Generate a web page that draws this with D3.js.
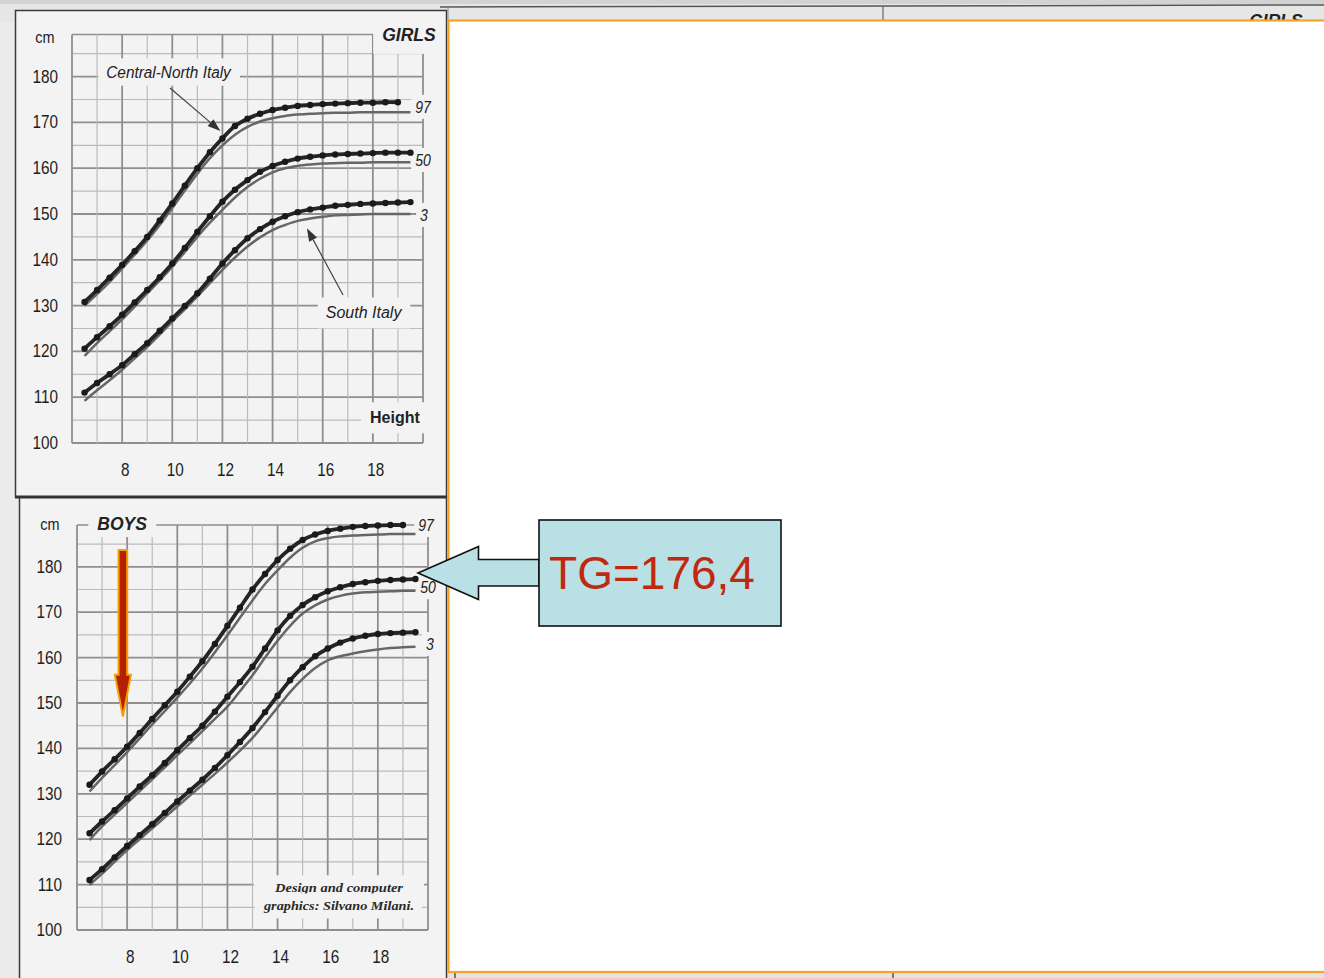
<!DOCTYPE html>
<html><head><meta charset="utf-8">
<script src="https://cdn.jsdelivr.net/npm/d3@7/dist/d3.min.js"></script>
<style>html,body{margin:0;padding:0;background:#fff;overflow:hidden}svg{display:block}</style>
</head><body>
<svg id="c" width="1324" height="978"></svg>
<script>
// ---------------- DATA ----------------
const ages = [6.5,7,7.5,8,8.5,9,9.5,10,10.5,11,11.5,12,12.5,13,13.5,14,14.5,15,15.5,16,16.5,17,17.5,18,18.5,19,19.5];

// Girls – Central-North Italy (dotted) and South Italy (plain)
const girlsNorth97 = [130.8,133.4,136.1,138.9,141.9,145.0,148.6,152.3,156.2,160.0,163.5,166.5,169.2,170.8,171.9,172.7,173.2,173.6,173.8,174.0,174.1,174.2,174.3,174.3,174.4,174.4,null];
const girlsSouth97 = [130.0,132.5,135.2,138.1,141.1,144.2,147.6,151.3,155.1,158.8,162.2,165.0,167.3,169.0,170.2,170.9,171.4,171.7,171.9,172.0,172.1,172.1,172.2,172.2,172.2,172.2,172.2];
const girlsNorth50 = [120.6,123.1,125.5,128.0,130.7,133.4,136.2,139.2,142.6,146.1,149.5,152.7,155.3,157.4,159.2,160.5,161.4,162.1,162.5,162.8,163.0,163.1,163.2,163.3,163.4,163.4,163.4];
const girlsSouth50 = [119.0,121.8,124.4,127.0,129.8,132.7,135.5,138.5,141.7,145.0,148.1,150.9,153.6,155.9,157.7,159.1,160.0,160.5,160.8,161.0,161.1,161.2,161.2,161.3,161.3,161.3,161.3];
const girlsNorth3 = [111.0,113.1,115.0,117.0,119.4,121.8,124.5,127.2,129.9,132.7,135.9,139.2,142.1,144.7,146.7,148.3,149.5,150.4,151.0,151.4,151.8,152.0,152.2,152.3,152.4,152.5,152.6];
const girlsSouth3 = [109.2,111.5,113.7,116.0,118.5,121.0,123.7,126.5,129.2,132.0,134.9,137.8,140.5,142.9,144.9,146.5,147.6,148.5,149.0,149.4,149.7,149.8,149.9,150.0,150.0,150.0,150.0];

// Boys
const boysNorth97 = [132.0,134.9,137.6,140.4,143.4,146.5,149.5,152.5,155.8,159.2,163.0,167.0,171.0,175.0,178.4,181.5,184.0,185.9,187.1,187.9,188.4,188.8,189.0,189.1,189.2,189.2,null];
const boysSouth97 = [130.5,133.5,136.3,139.2,142.2,145.3,148.2,151.2,154.3,157.6,161.2,164.9,168.8,172.6,176.2,179.2,182.0,184.2,185.6,186.3,186.7,186.9,187.0,187.1,187.2,187.2,187.2];
const boysNorth50 = [121.3,123.9,126.4,129.0,131.6,134.1,136.8,139.6,142.3,145.0,148.1,151.4,154.6,158.0,162.0,166.0,169.2,171.6,173.3,174.6,175.5,176.2,176.6,176.9,177.1,177.2,177.3];
const boysSouth50 = [119.8,122.8,125.4,128.0,130.6,133.2,135.8,138.5,141.1,143.8,146.5,149.2,152.6,156.1,160.0,163.7,167.0,169.7,171.5,172.8,173.6,174.1,174.4,174.5,174.6,174.7,174.7];
const boysNorth3 = [111.0,113.4,116.0,118.5,120.9,123.3,125.8,128.3,130.7,133.1,135.7,138.5,141.4,144.5,148.0,151.6,155.0,157.9,160.3,162.0,163.3,164.2,164.8,165.2,165.4,165.5,165.6];
const boysSouth3 = [109.9,112.4,115.0,117.6,120.0,122.4,124.8,127.2,129.6,132.0,134.4,136.9,139.5,142.3,145.6,149.0,152.4,155.3,157.7,159.4,160.3,160.9,161.4,161.8,162.1,162.3,162.4];

const percentiles = ["97","50","3"];
const xTickLabels = [8,10,12,14,16,18];
const yTickLabels = [100,110,120,130,140,150,160,170,180];
const gridYears = [6,7,8,9,10,11,12,13,14,15,16,17,18,19,20];
const gridCm = [100,105,110,115,120,125,130,135,140,145,150,155,160,165,170,175,180,185];
const callout = "TG=176,4";

// ---------------- DRAW ----------------
const svg = d3.select('#c');
const SANS = "'Liberation Sans', Arial, Helvetica, sans-serif";
const SERIF = "'Liberation Serif', 'Times New Roman', serif";
const PANEL = '#f3f3f3';

// page / scan backgrounds
svg.append('rect').attr('width',1324).attr('height',978).attr('fill','#fff');
svg.append('rect').attr('x',0).attr('y',0).attr('width',452).attr('height',978).attr('fill','#ebebeb');
svg.append('rect').attr('x',0).attr('y',0).attr('width',1324).attr('height',22).attr('fill','#e6e6e6');
svg.append('rect').attr('x',0).attr('y',0).attr('width',1324).attr('height',4).attr('fill','#d2d2d2');
svg.append('line').attr('x1',440).attr('y1',7).attr('x2',1324).attr('y2',5).attr('stroke','#555').attr('stroke-width',1.5);
svg.append('rect').attr('x',448).attr('y',970).attr('width',876).attr('height',8).attr('fill','#e3e3e3');

// panels
svg.append('rect').attr('x',15.5).attr('y',10.5).attr('width',431).attr('height',486.5)
  .attr('fill',PANEL).attr('stroke','#3a3a3a').attr('stroke-width',1.5);
svg.append('rect').attr('x',19.5).attr('y',497).attr('width',427).attr('height',500)
  .attr('fill',PANEL).attr('stroke','#3a3a3a').attr('stroke-width',1.5);
svg.append('line').attr('x1',15).attr('x2',447).attr('y1',497).attr('y2',497).attr('stroke','#333').attr('stroke-width',3);

function label(g, x, y, str, o) {
  o = o || {};
  const t = g.append('text')
    .attr('transform', `translate(${x},${y}) scale(${o.sx||1},1)`)
    .attr('text-anchor', o.anchor || 'middle')
    .attr('dominant-baseline', 'central')
    .attr('font-family', o.family || SANS)
    .attr('font-size', o.size || 16)
    .attr('font-style', o.italic ? 'italic' : 'normal')
    .attr('font-weight', o.bold ? 'bold' : 'normal')
    .attr('fill', o.fill || '#222')
    .text(str);
  if (o.textLength) t.attr('textLength', o.textLength).attr('lengthAdjust','spacingAndGlyphs');
  return t;
}
function boxBehind(g, textSel, px, py) {
  const n = textSel.node();
  const b = n.getBBox();
  const m = n.getCTM();
  const gm = g.node().getCTM();
  const pt = svg.node().createSVGPoint();
  const rel = gm.inverse().multiply(m);
  const corners = [[b.x,b.y],[b.x+b.width,b.y],[b.x,b.y+b.height],[b.x+b.width,b.y+b.height]].map(([a,c])=>{pt.x=a;pt.y=c;const q=pt.matrixTransform(rel);return [q.x,q.y];});
  const xs = corners.map(d=>d[0]), ys = corners.map(d=>d[1]);
  g.insert('rect', () => n)
    .attr('x', d3.min(xs)-px).attr('y', d3.min(ys)-py)
    .attr('width', d3.max(xs)-d3.min(xs)+2*px).attr('height', d3.max(ys)-d3.min(ys)+2*py)
    .attr('fill', PANEL);
}

function drawChart(cfg) {
  const x = d3.scaleLinear().domain([6,20]).range([cfg.x0, cfg.x1]);
  const y = d3.scaleLinear().domain([100,190]).range([cfg.y0, cfg.y0 - 90*cfg.k]);
  const g = svg.append('g');
  const gridTop = 189.2;

  // grid
  const grid = g.append('g');
  grid.selectAll('line.h').data(gridCm).join('line')
    .attr('x1', x(6)).attr('x2', x(20)).attr('y1', d=>y(d)).attr('y2', d=>y(d))
    .attr('stroke', d => d%10===0 ? '#8f8f8f' : '#bbbbbb')
    .attr('stroke-width', d => d%10===0 ? 1.8 : 1.2);
  grid.append('line').attr('x1',x(6)).attr('x2',x(20)).attr('y1',y(gridTop)).attr('y2',y(gridTop))
    .attr('stroke','#8f8f8f').attr('stroke-width',1.6);
  grid.selectAll('line.v').data(gridYears).join('line')
    .attr('x1', d=>x(d)).attr('x2', d=>x(d)).attr('y1', y(100)).attr('y2', y(gridTop))
    .attr('stroke', d => d%2===0 ? '#8f8f8f' : '#bbbbbb')
    .attr('stroke-width', d => d%2===0 ? 1.8 : 1.2);

  // axis labels
  yTickLabels.forEach(d => label(g, x(6)-cfg.yLabOff, y(d), String(d), {anchor:'end', size:18, sx:0.85, fill:'#1e1e1e'}));
  xTickLabels.forEach(d => label(g, x(d)+3, y(100)+27, String(d), {size:18, sx:0.85, fill:'#1e1e1e'}));
  label(g, x(6)-27, y(cfg.cmV), 'cm', {size:17, sx:0.85, fill:'#1e1e1e'});

  // annotations with background boxes
  cfg.notes.forEach(nt => {
    const t = label(g, x(nt.a), y(nt.v), nt.text, nt.o);
    boxBehind(g, t, nt.px, nt.py);
  });

  // percentile labels
  percentiles.forEach((p,i) => {
    const t = label(g, x(20)+cfg.pOff[i], y(cfg.pV[i]), p, {size:16, italic:true, sx:0.88, fill:'#222'});
    boxBehind(g, t, 4, 3);
  });

  // curves
  const line = d3.line().defined(d=>d[1]!=null).x(d=>x(d[0])).y(d=>y(d[1])).curve(d3.curveCatmullRom.alpha(0.5));
  const pairs = arr => ages.map((a,i)=>[a,arr[i]]);
  cfg.south.forEach(s => {
    g.append('path').attr('d', line(pairs(s))).attr('fill','none')
      .attr('stroke','#666').attr('stroke-width',2.5);
  });
  cfg.north.forEach(s => {
    const p = pairs(s).filter(d=>d[1]!=null);
    g.append('path').attr('d', line(p)).attr('fill','none')
      .attr('stroke','#252525').attr('stroke-width',3.8);
    g.selectAll(null).data(p).join('circle')
      .attr('cx', d=>x(d[0])).attr('cy', d=>y(d[1])).attr('r', 3.2).attr('fill','#1a1a1a');
  });

  // arrows
  (cfg.arrows||[]).forEach(ar => {
    const x1=x(ar.from[0]), y1=y(ar.from[1]), x2=x(ar.to[0]), y2=y(ar.to[1]);
    const ang = Math.atan2(y2-y1, x2-x1), L=13, W=4.5;
    const bx = x2 - L*Math.cos(ang), by = y2 - L*Math.sin(ang);
    g.append('line').attr('x1',x1).attr('y1',y1).attr('x2',bx).attr('y2',by).attr('stroke','#444').attr('stroke-width',1.2);
    g.append('path').attr('d', `M${x2},${y2}L${bx - W*Math.sin(ang)},${by + W*Math.cos(ang)}L${bx + W*Math.sin(ang)},${by - W*Math.cos(ang)}Z`).attr('fill','#333');
  });
  return {x, y, g};
}

// Girls chart
drawChart({
  x0:72, x1:423, y0:443, k:4.58, yLabOff:14, cmV:188.6,
  north:[girlsNorth97, girlsNorth50, girlsNorth3],
  south:[girlsSouth97, girlsSouth50, girlsSouth3],
  pOff:[0,0,1], pV:[173.4,161.8,149.8],
  notes:[
    {a:9.85, v:181.0, text:'Central-North Italy', o:{size:16, italic:true, sx:0.96, fill:'#222'}, px:8, py:5},
    {a:17.63, v:128.4, text:'South Italy', o:{size:16, italic:true, fill:'#222'}, px:8, py:7},
    {a:18.88, v:105.5, text:'Height', o:{size:16, bold:true, fill:'#222'}, px:9, py:7},
    {a:19.44, v:189.1, text:'GIRLS', o:{size:17.5, bold:true, italic:true, fill:'#222'}, px:9, py:9}
  ],
  arrows:[
    {from:[9.91,177.5], to:[11.92,168.1]},
    {from:[16.81,132.3], to:[15.37,146.9]}
  ]
});

// Boys chart
const boys = drawChart({
  x0:77, x1:428, y0:930, k:4.54, yLabOff:15, cmV:189.4,
  north:[boysNorth97, boysNorth50, boysNorth3],
  south:[boysSouth97, boysSouth50, boysSouth3],
  pOff:[-2,0,2], pV:[189.2,175.5,163.0],
  notes:[
    {a:7.8, v:189.4, text:'BOYS', o:{size:17.5, bold:true, italic:true, fill:'#222'}, px:9, py:3},
    {a:16.45, v:109.3, text:'Design and computer', o:{size:13, italic:true, bold:true, family:SERIF, fill:'#2a2a2a', textLength:128}, px:20, py:5},
    {a:16.45, v:105.3, text:'graphics: Silvano Milani.', o:{size:13, italic:true, bold:true, family:SERIF, fill:'#2a2a2a', textLength:150}, px:8, py:5}
  ]
});

// red down arrow in boys chart
(function(){
  const {x, y} = boys;
  const cx = x(7.83), top = y(183.7), base = y(156.2), tip = y(147.0);
  const sw = 4.3, hw = 8;
  svg.append('path')
    .attr('d', `M${cx-sw},${top}L${cx+sw},${top}L${cx+sw},${base}L${cx+hw},${base}L${cx},${tip}L${cx-hw},${base}L${cx-sw},${base}Z`)
    .attr('fill','#b42100').attr('stroke','#f5a000').attr('stroke-width',2).attr('stroke-linejoin','miter');
})();

// partial page behind the slide box
svg.append('line').attr('x1',448).attr('x2',448).attr('y1',7).attr('y2',22).attr('stroke','#999').attr('stroke-width',1.2);
svg.append('line').attr('x1',883).attr('x2',883).attr('y1',6).attr('y2',22).attr('stroke','#666').attr('stroke-width',1.2);
svg.append('text').attr('x',1276).attr('y',27).attr('text-anchor','middle').attr('font-family',SANS)
  .attr('font-size',17.5).attr('font-weight','bold').attr('font-style','italic').attr('fill','#222').text('GIRLS');
svg.append('line').attr('x1',455).attr('x2',455).attr('y1',972).attr('y2',978).attr('stroke','#555').attr('stroke-width',1.5);
svg.append('line').attr('x1',893).attr('x2',893).attr('y1',972).attr('y2',978).attr('stroke','#555').attr('stroke-width',1.5);

// slide white box with orange border
svg.append('rect').attr('x',448.5).attr('y',20.5).attr('width',900).attr('height',951.5)
  .attr('fill','#fff').attr('stroke','#f6a424').attr('stroke-width',2.2);

// callout arrow + box
svg.append('path')
  .attr('d','M418,573 L478.5,546.5 L478.5,559.5 L539,559.5 L539,586 L478.5,586 L478.5,599.5 Z')
  .attr('fill','#b9e0e4').attr('stroke','#111').attr('stroke-width',1.6).attr('stroke-linejoin','miter');
svg.append('rect').attr('x',539).attr('y',520).attr('width',242).attr('height',106)
  .attr('fill','#b9e0e4').attr('stroke','#111').attr('stroke-width',1.6);
svg.append('text').attr('x',652).attr('y',573).attr('text-anchor','middle').attr('dominant-baseline','central')
  .attr('font-family',SANS).attr('font-size',46).attr('fill','#c0290f').text(callout);
</script>
</body></html>
